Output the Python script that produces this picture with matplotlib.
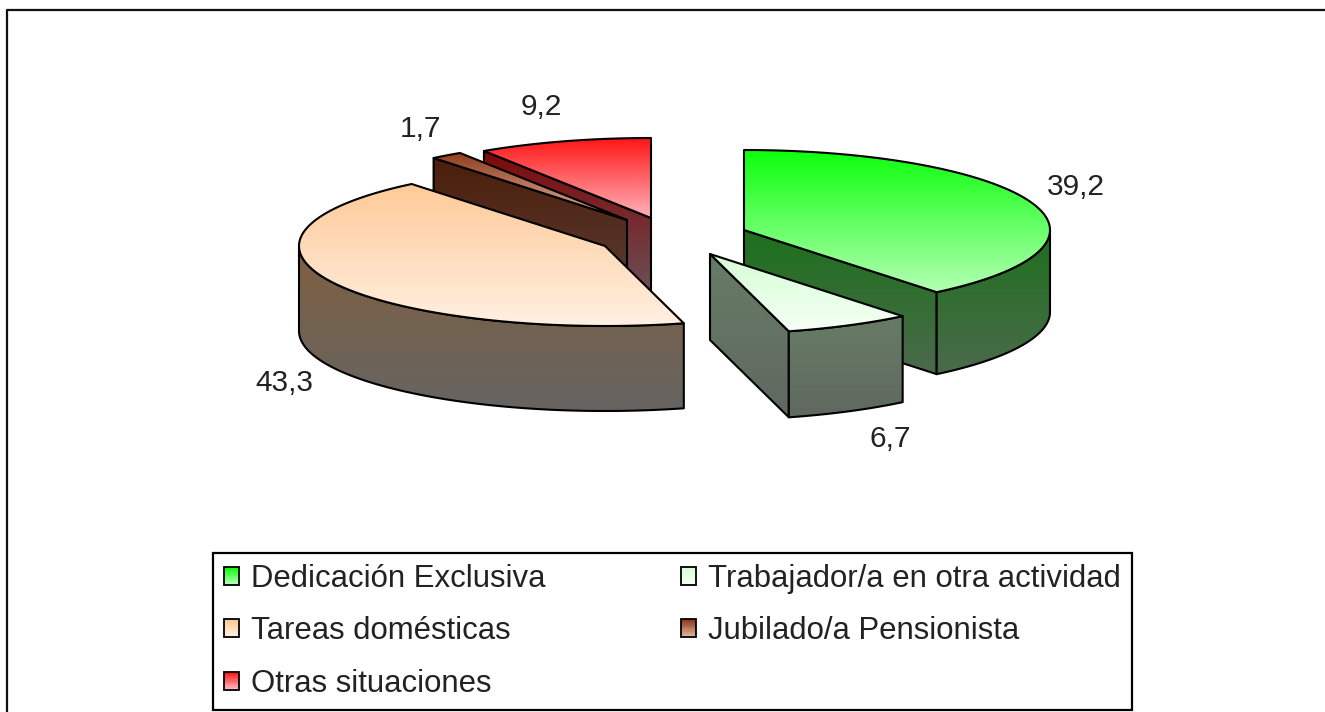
import matplotlib
matplotlib.use("Agg")
import matplotlib.pyplot as plt
import numpy as np
from matplotlib.colors import LinearSegmentedColormap
from matplotlib.legend_handler import HandlerBase
from matplotlib.patches import Patch, Polygon, Rectangle

plt.rcParams['font.family'] = ['Liberation Sans', 'DejaVu Sans']

# Data
categories = ['Dedicación Exclusiva', 'Trabajador/a en otra actividad', 'Tareas domésticas',
              'Jubilado/a Pensionista', 'Otras situaciones']
values = [39.2, 6.7, 43.3, 1.7, 9.2]

# Style, one entry per slice
top_colors = [('#0cff0c', '#b4ffb4'), ('#d4ffd4', '#f6fff6'), ('#ffca98', '#fff0e2'),
              ('#8e3c1c', '#e2b4a2'), ('#ff1616', '#ffb4bc')]
side_colors = [('#1c701c', '#4c6a4c'), ('#667c66', '#606860'), ('#806040', '#666462'),
               ('#4c1e0a', '#5a4038'), ('#7e0808', '#6c5058')]
centers = [(744, 230), (710, 254), (605, 246), (627, 220), (651, 218)]
heights = [82, 86, 85, 85, 75]
label_pos = [(1076, 187), (890, 439), (284, 383), (421, 129), (541, 107)]
draw_order = [4, 3, 2, 0, 1]
rx, ry = 306, 80

fig = plt.figure(figsize=(13.25, 7.12), dpi=100)
ax = fig.add_axes([0, 0, 1, 1])
ax.set_xlim(0, 1325)
ax.set_ylim(712, 0)
ax.axis('off')

ax.plot([7, 7, 1325], [712, 10, 10], color='#111111', lw=1.6, zorder=50)


def gradient_fill(pts, cols, z):
    pts = np.array(pts)
    x0, y0 = pts.min(axis=0)
    x1, y1 = pts.max(axis=0)
    cmap = LinearSegmentedColormap.from_list('g', cols)
    im = ax.imshow(np.linspace(0, 1, 256).reshape(-1, 1), cmap=cmap, aspect='auto',
                   extent=(x0, x1, y1, y0), zorder=z, interpolation='bilinear')
    poly = Polygon(pts, closed=True, facecolor='none', edgecolor='black', lw=1.5,
                   joinstyle='round', zorder=z + 0.5)
    ax.add_patch(poly)
    im.set_clip_path(poly)


def rim(cx, cy, angles):
    t = np.radians(angles)
    return np.column_stack([cx + rx * np.sin(t), cy - ry * np.cos(t)])


edges = np.cumsum([0] + values) / sum(values) * 360

z = 2
for i in draw_order:
    a0, a1 = edges[i], edges[i + 1]
    cx, cy = centers[i]
    h = heights[i]
    down = np.array([0, h])
    sides = []
    # cut faces that look towards the viewer
    if np.sin(np.radians(a0)) < -1e-6:
        p = rim(cx, cy, [a0])[0]
        sides.append([(cx, cy), p, p + down, (cx, cy + h)])
    if np.sin(np.radians(a1)) > 1e-6:
        p = rim(cx, cy, [a1])[0]
        sides.append([(cx, cy), p, p + down, (cx, cy + h)])
    # outer wall, only the front half of the ellipse
    lo, hi = max(a0, 90), min(a1, 270)
    if hi > lo:
        arc = rim(cx, cy, np.linspace(lo, hi, 60))
        sides.append(np.vstack([arc, (arc + down)[::-1]]))
    for s in sides:
        gradient_fill(s, side_colors[i], z)
        z += 1
    top = np.vstack([[(cx, cy)], rim(cx, cy, np.linspace(a0, a1, 120))])
    gradient_fill(top, top_colors[i], z)
    z += 1

ax.set_xlim(0, 1325)
ax.set_ylim(712, 0)

for v, (x, y) in zip(values, label_pos):
    ax.text(x, y, f'{v:.1f}'.replace('.', ','), fontsize=21.5, color='#222222',
            ha='center', va='center', zorder=60)


class GradientHandle(HandlerBase):
    def __init__(self, cols):
        super().__init__()
        self.cmap = LinearSegmentedColormap.from_list('h', cols)

    def create_artists(self, legend, orig_handle, xdescent, ydescent, width, height,
                       fontsize, trans):
        out = []
        n = 10
        for k in range(n):
            y = -ydescent + height * (n - 1 - k) / n
            out.append(Rectangle((-xdescent, y), width, height / n, facecolor=self.cmap(k / (n - 1)),
                                 edgecolor='none', transform=trans))
        out.append(Rectangle((-xdescent, -ydescent), width, height, facecolor='none',
                             edgecolor='black', lw=1.3, transform=trans))
        return out


handles = [Patch(label=c) for c in categories]
handler_map = {h: GradientHandle(top_colors[i]) for i, h in enumerate(handles)}
# columns fill downwards in matplotlib, so reorder to keep the row layout
order = [0, 2, 4, 1, 3]
leg = ax.legend([handles[i] for i in order], [categories[i] for i in order],
                handler_map=handler_map, ncol=2, loc='lower left',
                bbox_to_anchor=(213 / 1325, 1 - 710 / 712), bbox_transform=ax.transAxes,
                fontsize=22.4, frameon=True, fancybox=False, framealpha=1, edgecolor='black',
                borderaxespad=0, borderpad=0.36, labelspacing=0.72, handlelength=0.48,
                handleheight=0.5, handletextpad=0.38, columnspacing=4.35,
                labelcolor='#222222')
leg.get_frame().set_linewidth(1.6)
leg.set_zorder(70)

fig.savefig('out.png', dpi=100)
